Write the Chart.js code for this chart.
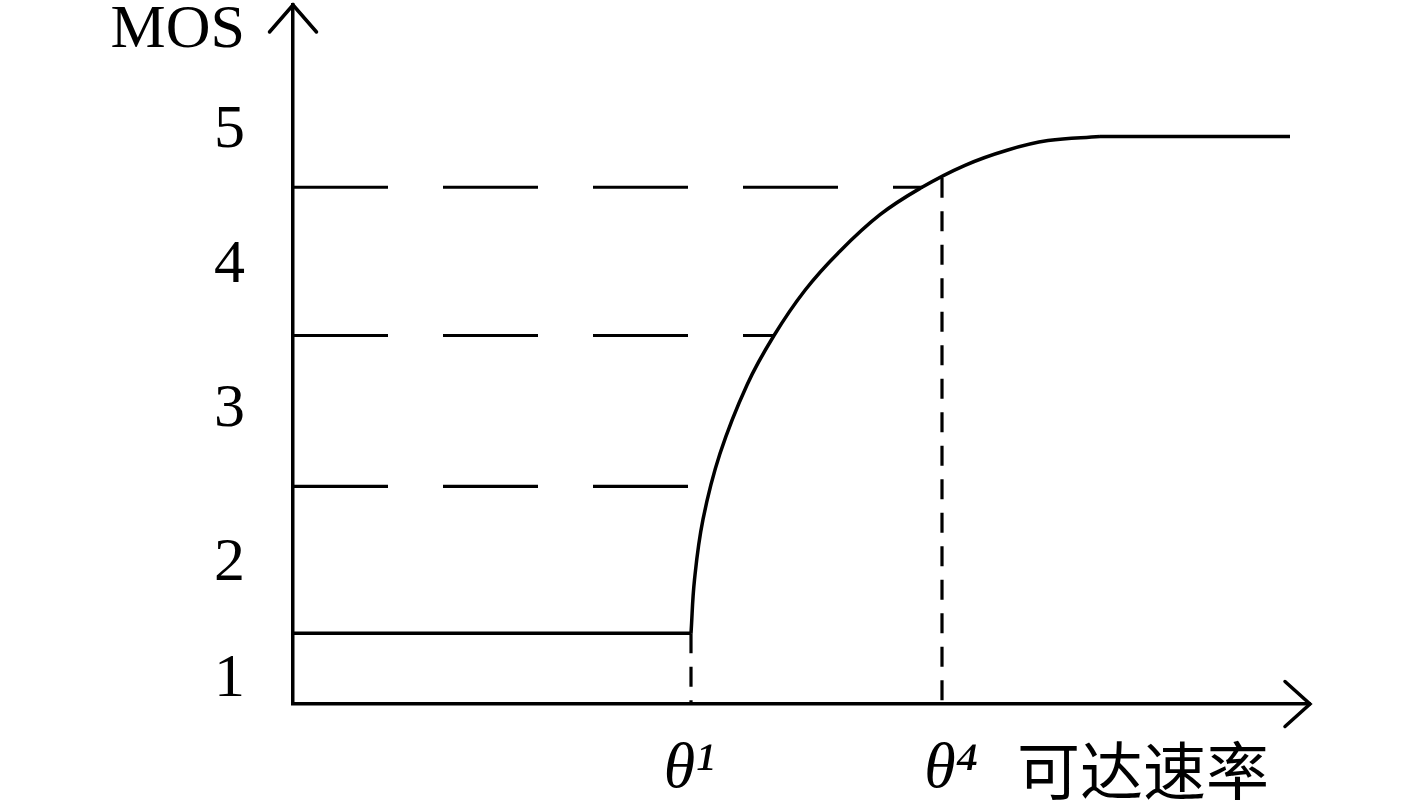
<!DOCTYPE html>
<html>
<head>
<meta charset="utf-8">
<script src="https://cdn.jsdelivr.net/npm/chart.js@4"></script>
<style>
  html, body { margin: 0; padding: 0; background: #fff; }
  #wrap { width: 1417px; height: 803px; }
</style>
</head>
<body>
<div id="wrap"><canvas id="mosChart"></canvas></div>
<script>
// flat low part, rising curve, flat top (rate, MOS)
const baseX = [0, 3.98];
const baseY = [1.34, 1.34];
const curveX = [3.98, 4.015, 4.10, 4.27, 4.54, 4.81, 5.12, 5.45, 5.87, 6.29, 6.72, 7.14, 7.55, 8.07];
const curveY = [1.34, 1.73, 2.17, 2.65, 3.15, 3.51, 3.84, 4.11, 4.39, 4.59, 4.75, 4.86, 4.93, 4.96];
const topX = [8.07, 9.97];
const topY = [4.96, 4.96];

// dashed guide levels and where they meet the curve
const levelY = [2.41, 3.51, 4.59];
const levelEnd = [4.14, 4.81, 6.30];

// dashed drops at theta1 / theta4
const thetaX = [3.98, 6.49];
const thetaTop = [1.34, 4.66];

const yTickValues = [1, 1.85, 2.97, 4.02, 5, 5.73];
const yTickLabels = ['1', '2', '3', '4', '5', 'MOS'];
const xTickValues = [3.96, 6.58, 8.50];
const xTickLabels = ['θ¹', 'θ⁴', '可达速率'];

const pts = (xs, ys) => xs.map((x, i) => ({ x: x, y: ys[i] }));

let datasets = [];
datasets.push({ data: pts(baseX, baseY), borderColor: '#000', borderWidth: 3.5, tension: 0 });
datasets.push({ data: pts(curveX, curveY), borderColor: '#000', borderWidth: 3.5, tension: 0.4 });
datasets.push({ data: pts(topX, topY), borderColor: '#000', borderWidth: 3.5, tension: 0 });
levelY.forEach((y, i) => {
  datasets.push({ data: [{ x: 0, y: y }, { x: levelEnd[i], y: y }], borderColor: '#000',
    borderWidth: 3.2, borderDash: [95, 55], tension: 0 });
});
thetaX.forEach((x, i) => {
  datasets.push({ data: [{ x: x, y: thetaTop[i] }, { x: x, y: 0.825 }], borderColor: '#000',
    borderWidth: 3.2, borderDash: [20, 13.5], tension: 0 });
});

const arrows = {
  id: 'arrows',
  afterDraw(chart) {
    const { ctx, chartArea: a } = chart;
    ctx.save();
    ctx.strokeStyle = '#000';
    ctx.lineWidth = 3.5;
    ctx.lineCap = 'round';
    ctx.beginPath();
    ctx.moveTo(a.left - 23.5, a.top + 27);
    ctx.lineTo(a.left, a.top);
    ctx.lineTo(a.left + 23.5, a.top + 27);
    ctx.moveTo(a.right - 25, a.bottom - 22.5);
    ctx.lineTo(a.right, a.bottom);
    ctx.lineTo(a.right - 25, a.bottom + 22.5);
    ctx.stroke();
    ctx.restore();
  }
};

const noPad = s => { s.paddingTop = 0; s.paddingBottom = 0; s.paddingLeft = 0; s.paddingRight = 0; };

new Chart(document.getElementById('mosChart').getContext('2d'), {
  type: 'line',
  data: { datasets: datasets },
  options: {
    responsive: true,
    maintainAspectRatio: false,
    animation: false,
    elements: { point: { radius: 0 } },
    layout: { padding: { top: 5, right: 107, left: 0, bottom: 0 } },
    plugins: { legend: { display: false }, tooltip: { enabled: false } },
    scales: {
      x: {
        type: 'linear',
        min: 0,
        max: 10.17,
        grid: { display: false, drawTicks: false },
        border: { display: true, color: '#000', width: 3.5 },
        afterBuildTicks: s => { s.ticks = xTickValues.map(v => ({ value: v })); },
        afterFit: s => { s.height = 99; noPad(s); },
        ticks: {
          autoSkip: false,
          maxRotation: 0,
          padding: 28,
          color: '#000',
          callback: (v, i) => xTickLabels[i],
          font: c => c.index === 2
            ? { family: 'Noto Sans CJK SC', size: 63 }
            : { family: 'Liberation Serif', size: 64, style: 'italic' }
        }
      },
      y: {
        min: 0.825,
        max: 5.918,
        grid: { display: false, drawTicks: false },
        border: { display: true, color: '#000', width: 3.5 },
        afterBuildTicks: s => { s.ticks = yTickValues.map(v => ({ value: v })); },
        afterFit: s => { s.width = 293; noPad(s); },
        ticks: {
          autoSkip: false,
          padding: 48,
          color: '#000',
          callback: (v, i) => yTickLabels[i],
          font: { family: 'Liberation Serif', size: 62 }
        }
      }
    }
  },
  plugins: [arrows]
});
</script>
</body>
</html>
